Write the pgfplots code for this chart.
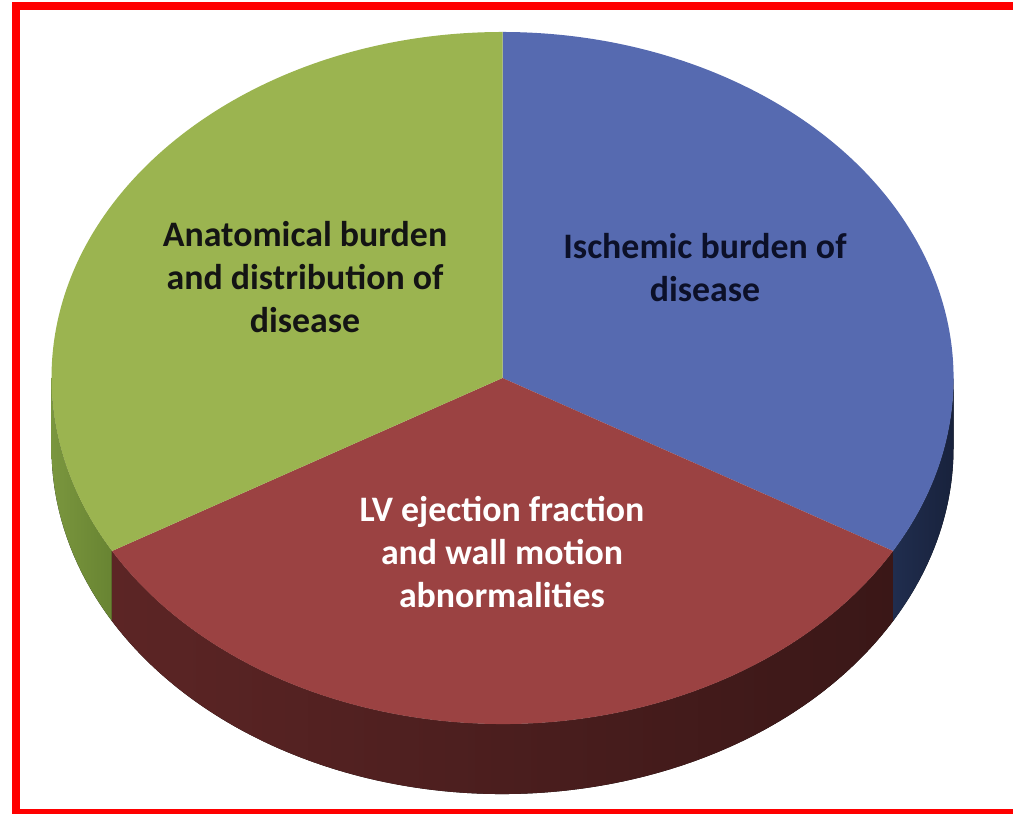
\documentclass[border=0pt]{standalone}
\usepackage{pgfplots}
\pgfplotsset{compat=1.18}
\usepackage{pgfplotstable}
\usepackage{fontspec}
\setmainfont{Carlito}
\definecolor{gTop}{RGB}{155,180,80}
\definecolor{bTop}{RGB}{86,106,176}
\definecolor{rTop}{RGB}{155,66,66}
\definecolor{gSideA}{RGB}{122,150,62}
\definecolor{gSideB}{RGB}{104,132,50}
\definecolor{rSideA}{RGB}{92,37,37}
\definecolor{rSideB}{RGB}{50,20,20}
\definecolor{rSideC}{RGB}{58,23,23}
\definecolor{bSideA}{RGB}{32,45,78}
\definecolor{bSideB}{RGB}{24,34,60}
\definecolor{bText}{RGB}{12,16,40}
\definecolor{borderRed}{RGB}{255,0,0}
\pgfplotstableread{
label value
Ischemic 33.333
LV 33.333
Anatomical 33.334
}\slices
\begin{document}%
\begin{tikzpicture}
\pgfplotstablegetelem{0}{value}\of\slices \let\vA\pgfplotsretval
\pgfplotstablegetelem{1}{value}\of\slices \let\vB\pgfplotsretval
\pgfplotstablegetelem{2}{value}\of\slices \let\vC\pgfplotsretval
\pgfmathsetmacro\aB{90-3.6*\vA}
\pgfmathsetmacro\aC{\aB-3.6*\vB}
\pgfmathsetmacro\aCp{\aC+360}
\def\cx{502.5}\def\cy{436}\def\rx{451}\def\ry{346}
\begin{axis}[
  scale only axis, width=101.3mm, height=81.4mm,
  xmin=0, xmax=1013, ymin=0, ymax=814,
  hide axis, clip=true,
]
% sides
\fill[left color=gSideA, right color=gSideB]
  (axis cs:{\cx+\rx*cos(-180)},{\cy+\ry*sin(-180)})
  arc[start angle=-180, end angle=\aC, x radius=45.1mm, y radius=34.6mm]
  -- ++(0,-7mm)
  arc[start angle=\aC, end angle=-180, x radius=45.1mm, y radius=34.6mm] -- cycle;
\fill[left color=rSideA, middle color=rSideB, right color=rSideC]
  (axis cs:{\cx+\rx*cos(\aC)},{\cy+\ry*sin(\aC)})
  arc[start angle=\aC, end angle=\aB, x radius=45.1mm, y radius=34.6mm]
  -- ++(0,-7mm)
  arc[start angle=\aB, end angle=\aC, x radius=45.1mm, y radius=34.6mm] -- cycle;
\fill[left color=bSideA, right color=bSideB]
  (axis cs:{\cx+\rx*cos(\aB)},{\cy+\ry*sin(\aB)})
  arc[start angle=\aB, end angle=0, x radius=45.1mm, y radius=34.6mm]
  -- ++(0,-7mm)
  arc[start angle=0, end angle=\aB, x radius=45.1mm, y radius=34.6mm] -- cycle;
% top faces
\fill[bTop] (axis cs:\cx,\cy) -- (axis cs:{\cx+\rx*cos(\aB)},{\cy+\ry*sin(\aB)})
  arc[start angle=\aB, end angle=90, x radius=45.1mm, y radius=34.6mm] -- cycle;
\fill[rTop] (axis cs:\cx,\cy) -- (axis cs:{\cx+\rx*cos(\aC)},{\cy+\ry*sin(\aC)})
  arc[start angle=\aC, end angle=\aB, x radius=45.1mm, y radius=34.6mm] -- cycle;
\fill[gTop] (axis cs:\cx,\cy) -- (axis cs:{\cx+\rx*cos(90)},{\cy+\ry*sin(90)})
  arc[start angle=90, end angle=\aCp, x radius=45.1mm, y radius=34.6mm] -- cycle;
% labels
\node[align=center, font=\fontsize{10.2}{12.2}\selectfont\bfseries, text=black!92]
  at (axis cs:305,537) {Anatomical burden\\and distribution of\\disease};
\node[align=center, font=\fontsize{10.2}{12.2}\selectfont\bfseries, text=bText]
  at (axis cs:705,546) {Ischemic burden of\\disease};
\node[align=center, font=\fontsize{10.2}{12.2}\selectfont\bfseries, text=white]
  at (axis cs:502,262) {LV ejection fraction\\and wall motion\\abnormalities};
% border
\draw[borderRed, line width=0.8mm] (axis cs:16,0) -- (axis cs:16,807.5) -- (axis cs:1013,807.5);
\draw[borderRed, line width=0.8mm] (axis cs:12,1) -- (axis cs:1013,1);
\end{axis}
\pgfresetboundingbox
\useasboundingbox (current axis.south west) rectangle (current axis.north east);
\end{tikzpicture}%
\end{document}
